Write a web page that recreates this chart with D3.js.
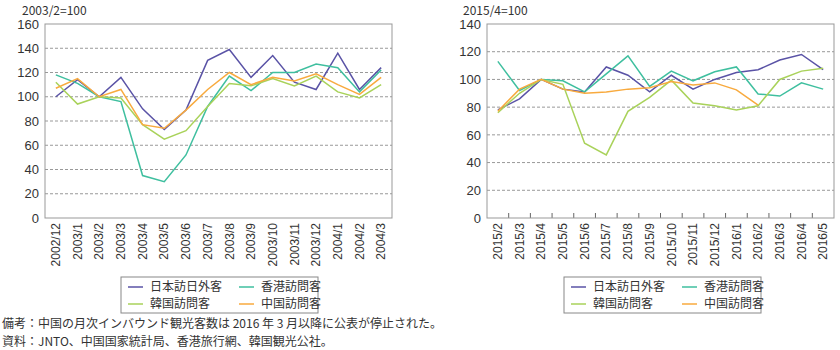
<!DOCTYPE html>
<html>
<head>
<meta charset="utf-8">
<script src="https://cdn.jsdelivr.net/npm/d3@7"></script>
<style>
  body { margin: 0; background: #fff; }
  svg { font-family: "Noto Sans CJK JP", "Noto Sans", sans-serif; }
</style>
</head>
<body>
<div id="chart"></div>
<script>
// left panel: 2003 (SARS) months, index 2003/2=100
const months1 = ["2002/12","2003/1","2003/2","2003/3","2003/4","2003/5","2003/6","2003/7",
                 "2003/8","2003/9","2003/10","2003/11","2003/12","2004/1","2004/2","2004/3"];
const japan1 = [100,114,100,116,90,73,89,130,139,116,134,112,106,136,106,124];
const hk1    = [118,111,100,96,35,30,52,92,117,105,120,120,127,124,104,122];
const korea1 = [112,94,100,99,77,65,72,92,111,109,115,109,117,104,99,110];
const china1 = [107,115,100,106,77,74,89,106,120,110,116,113,119,110,102,116];

// right panel: 2015 (MERS) months, index 2015/4=100
const months2 = ["2015/2","2015/3","2015/4","2015/5","2015/6","2015/7","2015/8","2015/9",
                 "2015/10","2015/11","2015/12","2016/1","2016/2","2016/3","2016/4","2016/5"];
const japan2 = [78,86,100,93,91,109,103,91,103,93,100,105,107,114,118,107];
const hk2    = [113,92,100,99,91,104,117,95,106,99,105.5,109,89.5,88,97.5,93];
const korea2 = [76,90,100,96.5,54,45.5,77,87,99.5,83,81,78,81,100,106,108];
const china2 = [77,93,100,93,90,91,93,94,98.5,96,97.5,92.5,81.5,null,null,null];

const seriesNames = ["日本訪日外客","香港訪問客","韓国訪問客","中国訪問客"];
const colors = ["#5a53a6","#3fbf9f","#a9d25a","#f8aa3e"];

const notes = [
  "備考：中国の月次インバウンド観光客数は 2016 年 3 月以降に公表が停止された。",
  "資料：JNTO、中国国家統計局、香港旅行網、韓国観光公社。"
];

const W = 840, H = 350;
let svg = d3.select("#chart").append("svg")
    .attr("width", W).attr("height", H)
    .attr("viewBox", [0, 0, W, H]);

//draws one panel
function panel(o) {
    const g = svg.append("g");
    const x = d3.scaleBand().domain(o.months).range([o.left, o.right]);
    const y = d3.scaleLinear().domain([0, o.ymax]).range([o.bottom, o.top]);

    // dashed grid
    g.append("g").selectAll("line")
        .data(y.ticks(o.ymax / 20).filter(t => t > 0 && t < o.ymax))
        .join("line")
        .attr("x1", o.left).attr("x2", o.right)
        .attr("y1", d => y(d)).attr("y2", d => y(d))
        .attr("stroke", "#999").attr("stroke-width", 1)
        .attr("stroke-dasharray", "3,2");

    // y axis labels
    const yAxis = g.append("g")
        .attr("transform", `translate(${o.left},0)`)
        .call(d3.axisLeft(y).ticks(o.ymax / 20).tickSize(0).tickPadding(6));
    yAxis.select(".domain").remove();
    yAxis.selectAll("text").attr("font-size", 13).attr("fill", "#333")
        .attr("font-family", "inherit");

    // x axis
    const xAxis = g.append("g")
        .attr("transform", `translate(0,${o.bottom})`)
        .call(d3.axisBottom(x).tickSize(0).tickPadding(0));
    xAxis.select(".domain").remove();
    xAxis.selectAll("text")
        .attr("font-size", 12).attr("fill", "#333").attr("font-family", "inherit")
        .attr("transform", "rotate(-90)")
        .attr("text-anchor", "end")
        .attr("x", -5).attr("y", 0).attr("dy", "0.35em");

    if (o.innerTicks) {
        g.append("g").selectAll("line")
            .data(o.months.slice(1))
            .join("line")
            .attr("x1", d => x(d)).attr("x2", d => x(d))
            .attr("y1", o.bottom).attr("y2", o.bottom - 5)
            .attr("stroke", "#666");
    }

    // lines
    const line = d3.line()
        .defined(d => d[1] != null)
        .x(d => x(d[0]) + x.bandwidth() / 2)
        .y(d => y(d[1]));
    o.series.forEach((s, i) => {
        g.append("path")
            .datum(o.months.map((m, j) => [m, s[j]]))
            .attr("fill", "none")
            .attr("stroke", colors[i])
            .attr("stroke-width", 1.5)
            .attr("d", line);
    });

    // frame
    g.append("rect")
        .attr("x", o.left).attr("y", o.top)
        .attr("width", o.right - o.left).attr("height", o.bottom - o.top)
        .attr("fill", "none").attr("stroke", "#999").attr("stroke-width", 1);

    // index label
    g.append("text")
        .attr("x", o.labelX).attr("y", 15)
        .attr("font-size", 12).attr("fill", "#333")
        .text(o.label);

    // legend
    const lg = g.append("g").attr("transform", `translate(${o.legX},277)`);
    lg.append("rect").attr("width", 197).attr("height", 36)
        .attr("fill", "#fff").attr("stroke", "#888");
    seriesNames.forEach((n, i) => {
        const cx = 7 + (i % 2) * 111, cy = 10 + Math.floor(i / 2) * 17;
        lg.append("line").attr("x1", cx).attr("x2", cx + 15)
            .attr("y1", cy).attr("y2", cy)
            .attr("stroke", colors[i]).attr("stroke-width", 1.5);
        lg.append("text").attr("x", cx + 22).attr("y", cy).attr("dy", "0.35em")
            .attr("font-size", 12).attr("fill", "#333").text(n);
    });
}

panel({months: months1, series: [japan1, hk1, korea1, china1], ymax: 160,
       left: 45, right: 392, top: 24, bottom: 218,
       label: "2003/2=100", labelX: 22, legX: 121, innerTicks: false});
panel({months: months2, series: [japan2, hk2, korea2, china2], ymax: 140,
       left: 487, right: 834, top: 24, bottom: 218,
       label: "2015/4=100", labelX: 463, legX: 564, innerTicks: true});

svg.append("g").selectAll("text")
    .data(notes)
    .join("text")
    .attr("x", 2)
    .attr("y", (d, i) => 324 + i * 18)
    .attr("dy", "0.35em")
    .attr("font-size", 12).attr("fill", "#333")
    .text(d => d);
</script>
</body>
</html>
